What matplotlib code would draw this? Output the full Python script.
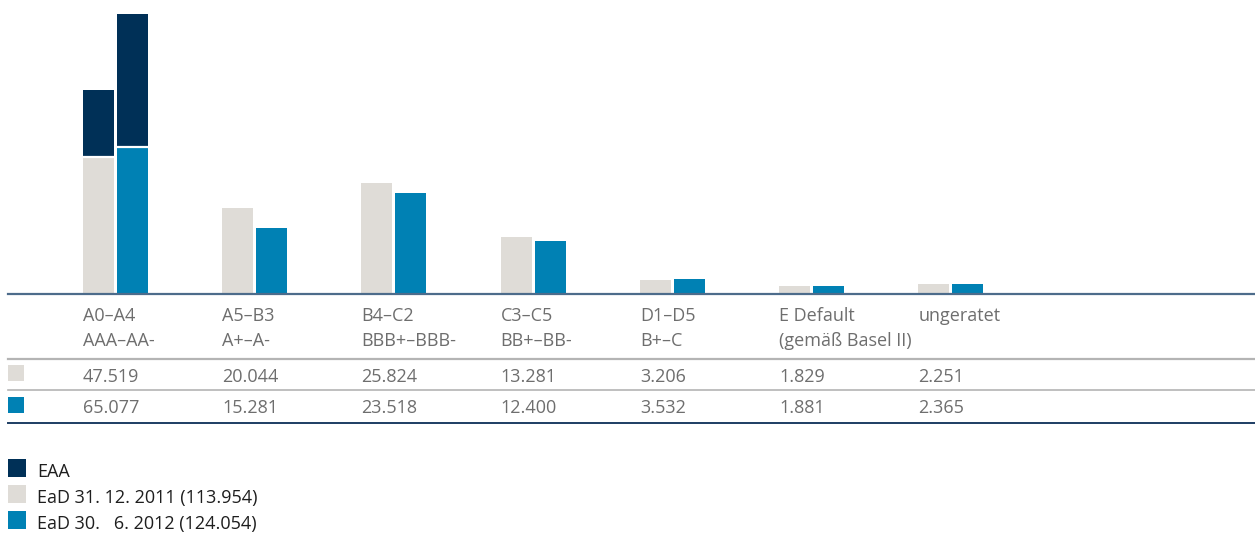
import numpy as np
import matplotlib
matplotlib.use("Agg")
import matplotlib.pyplot as plt
import matplotlib.transforms as mtransforms
from matplotlib.patches import Rectangle

plt.rcParams['font.family'] = ['Open Sans', 'DejaVu Sans']

# data
rating_master = ["A0–A4", "A5–B3", "B4–C2", "C3–C5", "D1–D5", "E Default", "ungeratet"]
rating_sp = ["AAA–AA-", "A+–A-", "BBB+–BBB-", "BB+–BB-", "B+–C", "(gemäß Basel II)", ""]
ead_2011 = [47.519, 20.044, 25.824, 13.281, 3.206, 1.829, 2.251]
ead_2012 = [65.077, 15.281, 23.518, 12.400, 3.532, 1.881, 2.365]
# EAA part (only A0-A4)
eaa_2011 = [15.6, 0, 0, 0, 0, 0, 0]
eaa_2012 = [30.9, 0, 0, 0, 0, 0, 0]
legend_labels = ["EAA", "EaD 31. 12. 2011 (113.954)", "EaD 30.   6. 2012 (124.054)"]

c_navy = "#003057"
c_gray = "#dfdcd7"
c_blue = "#0081b4"
c_text = "#6e6e6e"

W, H = 1255, 533
fig = plt.figure(figsize=(W / 100, H / 100), dpi=100)

def fy(y_px):
	return 1 - y_px / H

ax = fig.add_axes([8 / W, fy(294), 1247 / W, 294 / H])

x = np.arange(len(rating_master))
step = 139.2
off = 17 / step
bw = 31 / step

base_2011 = np.array(ead_2011) - np.array(eaa_2011)
base_2012 = np.array(ead_2012) - np.array(eaa_2012)

ax.bar(x - off, base_2011, width=bw, color=c_gray, linewidth=0)
ax.bar(x + off, base_2012, width=bw, color=c_blue, linewidth=0)
for i in range(len(x)):
	if eaa_2011[i] > 0:
		ax.bar(x[i] - off, eaa_2011[i], bottom=base_2011[i], width=bw, color=c_navy, linewidth=0)
		ax.hlines(base_2011[i], x[i] - off - bw / 2, x[i] - off + bw / 2, color="white", lw=1.6, zorder=3)
	if eaa_2012[i] > 0:
		ax.bar(x[i] + off, eaa_2012[i], bottom=base_2012[i], width=bw, color=c_navy, linewidth=0)
		ax.hlines(base_2012[i], x[i] + off - bw / 2, x[i] + off + bw / 2, color="white", lw=1.6, zorder=3)

ax.set_xlim(-(115.5 - 8) / step, -(115.5 - 8) / step + 1247 / step)
ax.set_ylim(0, 294 / 4.3)
for s in ["top", "right", "left"]:
	ax.spines[s].set_visible(False)
ax.spines["bottom"].set_color("#4d6c8b")
ax.spines["bottom"].set_linewidth(1.6)
ax.spines["bottom"].set_zorder(5)
ax.set_xticks([])
ax.set_yticks([])

# table below the chart
trans = mtransforms.blended_transform_factory(ax.transData, fig.transFigure)
fs = 13
for i in range(len(x)):
	tx = x[i] - off - bw / 2
	fig.text(tx, fy(321), rating_master[i], transform=trans, fontsize=fs, color=c_text, va="baseline", ha="left")
	fig.text(tx, fy(346), rating_sp[i], transform=trans, fontsize=fs, color=c_text, va="baseline", ha="left")
	fig.text(tx, fy(382), f"{ead_2011[i]:.3f}", transform=trans, fontsize=fs, color=c_text, va="baseline", ha="left")
	fig.text(tx, fy(413), f"{ead_2012[i]:.3f}", transform=trans, fontsize=fs, color=c_text, va="baseline", ha="left")

fig.add_artist(plt.Line2D([8 / W, 1], [fy(359), fy(359)], color="#b4b4b4", lw=1.6))
fig.add_artist(plt.Line2D([8 / W, 1], [fy(390), fy(390)], color="#b4b4b4", lw=1.2))
fig.add_artist(plt.Line2D([8 / W, 1], [fy(423), fy(423)], color="#1d3d63", lw=1.4))

fig.add_artist(Rectangle((8 / W, fy(381)), 16 / W, 16 / H, color=c_gray, lw=0))
fig.add_artist(Rectangle((8 / W, fy(413)), 16 / W, 16 / H, color=c_blue, lw=0))

# legend
leg_colors = [c_navy, c_gray, c_blue]
leg_base = [477, 503, 529]
for col, lab, yb in zip(leg_colors, legend_labels, leg_base):
	fig.add_artist(Rectangle((8 / W, fy(yb)), 18 / W, 18 / H, color=col, lw=0))
	fig.text(37 / W, fy(yb), lab, fontsize=fs, color="#1e1e1e", va="baseline", ha="left")

fig.savefig("out.png", dpi=100)
